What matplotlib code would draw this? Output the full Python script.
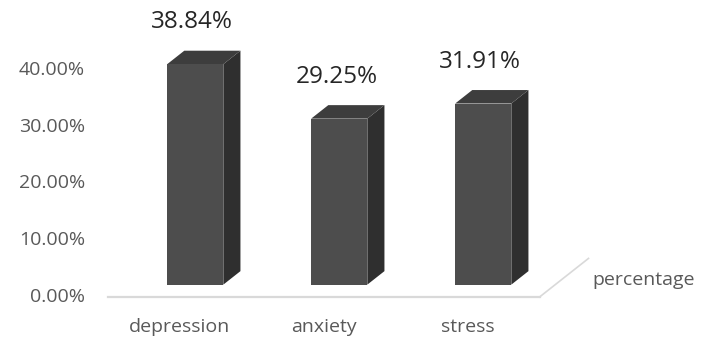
import numpy as np
import matplotlib.pyplot as plt
from matplotlib.patches import Polygon

categories = ['depression', 'anxiety', 'stress']
values = [38.84, 29.25, 31.91]
yticks = [0, 10, 20, 30, 40]
series_name = 'percentage'

# oblique "3d" offset for one full unit of depth (x in category units, y in %)
DX, DY = 0.34, 6.8
D0, D1 = 0.32, 0.67   # depth range occupied by the bars
W = 0.39

FRONT = '#4d4d4d'
SIDE = '#2f2f2f'
TOP = '#3d3d3d'
TXT = '#595959'

plt.rcParams['font.family'] = ['Open Sans', 'DejaVu Sans']

fig = plt.figure(figsize=(7.04, 3.43), dpi=100)
ax = fig.add_axes([0, 0, 1, 1])
ax.set_xlim(-1.247, 3.642)
ax.set_ylim(-8.106, 52.33)
ax.axis('off')

# floor
n = len(categories)
ax.plot([-0.5, n - 0.5], [0, 0], color='#d9d9d9', lw=1.6, zorder=1)
ax.plot([n - 0.5, n - 0.5 + DX], [0, DY], color='#d9d9d9', lw=1.2, zorder=1)

ddx = (D1 - D0) * DX
ddy = (D1 - D0) * DY
for i, v in enumerate(values):
    xc = i + D0 * DX
    b = D0 * DY
    xl, xr = xc - W / 2, xc + W / 2
    side = Polygon([(xr, b), (xr, b + v), (xr + ddx, b + v + ddy), (xr + ddx, b + ddy)],
                   closed=True, facecolor=SIDE, edgecolor='none', zorder=2)
    top = Polygon([(xl, b + v), (xr, b + v), (xr + ddx, b + v + ddy), (xl + ddx, b + v + ddy)],
                  closed=True, facecolor=TOP, edgecolor='none', zorder=2)
    ax.add_patch(side)
    ax.add_patch(top)
    ax.bar(xc, v, width=W, bottom=b, color=FRONT, linewidth=0, zorder=3)
    ax.text(xc - 0.02, v + D1 * DY + 5.0, '{:.2f}%'.format(v), ha='center', va='center',
            fontsize=17.5, color='#262626')
    ax.text(i, -5.3, categories[i], ha='center', va='center', fontsize=14, color=TXT)

for t in yticks:
    ax.text(-0.657, t, '{:.2f}%'.format(t), ha='right', va='center', fontsize=14, color=TXT)

ax.text(n - 0.5 + DX + 0.03, DY * 0.45, series_name, ha='left', va='center',
        fontsize=14, color=TXT)

plt.savefig('out.png', dpi=100)
